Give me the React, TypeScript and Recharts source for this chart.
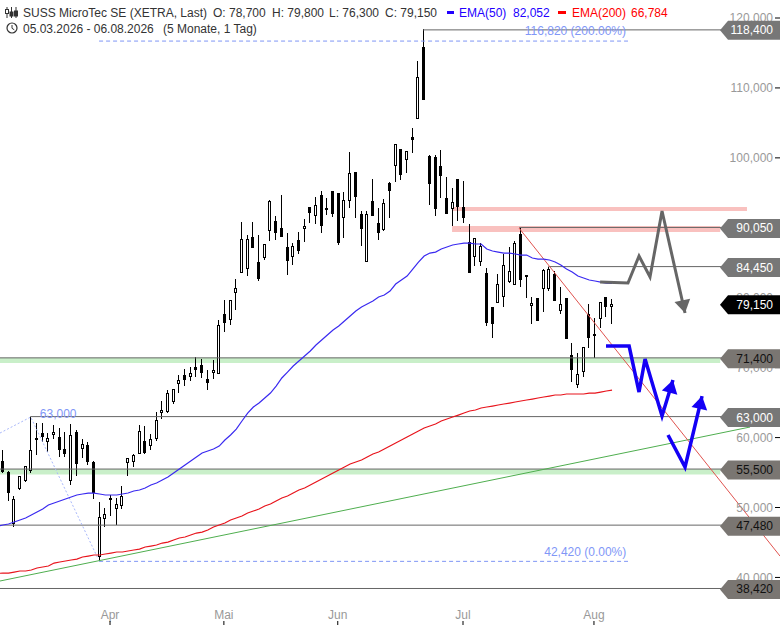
// SUSS MicroTec daily candles with EMAs, support/resistance levels and scenario arrows.
import {
  Bar,
  ComposedChart,
  Line,
  ReferenceArea,
  ReferenceDot,
  ReferenceLine,
  XAxis,
  YAxis,
} from 'recharts';

const FONT = '"Liberation Sans", Arial, sans-serif';
const BLANK_SESSIONS = 29; // empty room right of the last candle
const PRICE_DOMAIN = [36.774, 122.574];
const SESSION_DOMAIN = [-0.5, 136.5];

const OPENS = [
  56.65, 55.07, 47.64, 52.64, 53.79, 55.22, 59.94, 60.65, 59.37, 60.37, 60.08, 58.36, 53.79, 60.79, 58.36, 58.94, 56.5, 42.92,
  48.35, 51.36, 49.78, 50.21, 56.36, 56.5, 57.65, 59.51, 58.79, 59.79, 63.51, 63.65, 65.09, 67.66, 68.95, 68.66, 70.09, 70.37,
  68.37, 69.23, 69.09, 77.67, 76.81, 80.67, 83.53, 84.1, 88.68, 85.1, 85.68, 89.54, 90.97, 89.97, 87.25, 85.82, 88.25, 89.82,
  92.97, 91.68, 94.69, 92.83, 95.26, 94.97, 91.4, 93.83, 97.97, 91.97, 85.1, 93.83, 90.68, 89.68, 96.4, 98.83, 101.26, 99.69,
  102.98, 105.56, 115.85, 100.26, 100.12, 98.83, 94.26, 92.68, 96.97, 92.97, 87.96, 85.82, 85.1, 83.53, 78.67, 79.24, 80.1, 82.24,
  81.81, 89.11, 83.25, 78.81, 79.96, 81.24, 81.24, 83.39, 78.1, 79.96, 71.8, 67.52, 69.37, 77.67, 74.81, 76.95, 80.1, 78.7,
];
const HIGHS = [
  58.22, 55.2, 51.64, 54.5, 55.93, 63.0, 62.08, 62.08, 60.65, 61.8, 61.37, 60.79, 61.94, 61.08, 59.79, 59.37, 56.6, 50.79,
  49.93, 51.79, 51.36, 53.07, 57.08, 57.65, 61.8, 61.65, 60.51, 63.65, 65.23, 66.8, 66.94, 68.95, 69.8, 70.09, 71.52, 71.23,
  69.66, 71.09, 76.81, 79.67, 79.67, 82.67, 90.82, 88.97, 90.82, 88.97, 87.68, 93.97, 91.68, 94.69, 89.25, 87.82, 89.39, 91.25,
  92.97, 94.4, 95.26, 94.26, 95.26, 94.97, 95.11, 100.83, 97.97, 92.4, 92.4, 96.97, 92.83, 94.11, 96.54, 101.98, 101.26, 100.98,
  104.27, 113.85, 118.4, 100.4, 100.4, 101.12, 97.26, 95.69, 96.97, 96.69, 90.54, 88.54, 87.82, 84.25, 78.67, 83.39, 86.25, 87.25,
  88.11, 89.97, 83.25, 80.1, 79.96, 84.1, 84.39, 83.82, 81.53, 79.96, 73.52, 72.09, 72.95, 79.1, 77.1, 79.39, 80.1, 79.8,
];
const LOWS = [
  54.93, 50.93, 47.21, 52.5, 53.65, 54.93, 57.51, 59.37, 57.93, 59.79, 57.22, 57.22, 53.22, 54.5, 57.08, 56.08, 51.21, 42.42,
  47.21, 48.78, 47.5, 49.78, 54.5, 55.79, 57.65, 57.65, 58.22, 59.51, 62.65, 63.51, 64.8, 66.37, 67.37, 68.09, 68.66, 68.52,
  66.8, 68.37, 69.09, 75.1, 76.1, 78.24, 83.53, 83.1, 87.11, 82.39, 85.39, 88.11, 88.25, 88.68, 83.25, 84.67, 86.25, 87.96,
  90.68, 90.54, 89.25, 91.83, 91.54, 87.54, 88.54, 92.83, 91.4, 87.39, 85.1, 91.68, 88.25, 89.54, 91.4, 96.54, 96.83, 97.83,
  100.69, 105.56, 108.27, 93.26, 91.68, 94.26, 91.97, 90.25, 90.97, 90.68, 83.53, 84.53, 84.53, 75.95, 74.24, 79.24, 78.67, 82.1,
  81.81, 81.53, 79.96, 76.24, 76.67, 77.95, 80.96, 79.53, 77.67, 74.1, 67.94, 67.09, 68.66, 72.81, 71.38, 75.67, 77.24, 76.3,
];
const CLOSES = [
  55.07, 52.07, 51.21, 54.5, 55.93, 58.22, 59.72, 60.08, 59.94, 60.79, 58.22, 57.65, 60.37, 56.22, 59.08, 56.5, 52.07, 48.64,
  49.07, 51.21, 50.5, 51.64, 57.08, 57.51, 60.94, 57.79, 59.79, 62.51, 63.94, 66.37, 66.94, 68.23, 68.23, 69.23, 69.66, 69.23,
  67.8, 69.66, 76.1, 76.38, 79.67, 81.39, 88.39, 88.39, 87.11, 82.67, 87.68, 93.83, 89.25, 88.68, 85.25, 87.39, 86.68, 90.25,
  92.11, 93.26, 90.25, 92.54, 91.97, 87.82, 93.97, 97.83, 94.4, 89.82, 91.97, 91.68, 89.25, 93.54, 95.26, 101.98, 97.55, 100.98,
  102.55, 111.56, 108.27, 96.26, 92.68, 97.4, 91.97, 93.69, 92.97, 91.4, 83.53, 88.54, 87.39, 76.38, 76.24, 81.96, 84.67, 83.82,
  87.82, 82.53, 82.96, 79.24, 76.67, 83.96, 84.1, 79.53, 79.1, 74.1, 69.66, 69.09, 72.95, 74.24, 74.67, 79.39, 78.67, 79.15,
];
const EMA50 = [
  47.5, 47.64, 47.92, 48.21, 48.5, 48.93, 49.36, 49.78, 50.36, 50.64, 50.93, 51.21, 51.5, 51.79, 51.93, 52.07, 52.07, 51.93,
  51.79, 51.79, 51.79, 51.93, 52.07, 52.36, 52.5, 52.79, 53.22, 53.5, 53.93, 54.36, 54.93, 55.5, 56.08, 56.65, 57.22, 57.79,
  58.08, 58.36, 58.79, 59.65, 60.37, 61.22, 62.37, 63.51, 64.37, 64.94, 65.66, 66.37, 67.37, 68.52, 69.37, 70.23, 70.95, 71.66,
  72.38, 73.24, 73.95, 74.67, 75.38, 75.95, 76.67, 77.38, 78.1, 78.67, 79.1, 79.53, 80.1, 80.39, 80.96, 81.96, 82.53, 83.1,
  84.1, 85.1, 85.96, 86.39, 86.53, 86.96, 87.25, 87.54, 87.68, 87.82, 87.82, 87.68, 87.68, 86.96, 86.68, 86.53, 86.39, 86.39,
  86.25, 86.1, 86.1, 85.68, 85.53, 85.53, 85.39, 85.1, 84.67, 84.1, 83.67, 83.1, 82.82, 82.53, 82.39, 82.24, 82.1, 82.05,
];
const EMA200 = [
  40.63, 40.63, 40.77, 40.92, 40.92, 41.06, 41.35, 41.49, 41.63, 42.06, 42.21, 42.35, 42.49, 42.63, 42.92, 43.06, 43.21, 43.21,
  43.35, 43.49, 43.64, 43.64, 43.78, 43.92, 44.06, 44.35, 44.49, 44.64, 44.92, 45.06, 45.35, 45.64, 45.78, 46.07, 46.35, 46.49,
  46.78, 47.21, 47.5, 47.78, 48.21, 48.5, 48.78, 49.21, 49.5, 49.78, 50.21, 50.5, 50.93, 51.36, 51.64, 52.07, 52.5, 52.79,
  53.22, 53.65, 54.07, 54.5, 54.93, 55.36, 55.79, 56.22, 56.5, 56.79, 57.22, 57.65, 57.93, 58.36, 58.79, 59.22, 59.65, 60.08,
  60.51, 60.94, 61.37, 61.65, 61.94, 62.37, 62.65, 62.94, 63.22, 63.51, 63.8, 63.94, 64.23, 64.37, 64.51, 64.66, 64.8, 64.94,
  65.09, 65.23, 65.37, 65.51, 65.66, 65.8, 65.94, 66.09, 66.09, 66.23, 66.23, 66.23, 66.23, 66.37, 66.37, 66.51, 66.66, 66.78,
];
// where each EMA enters at the left edge of the picture
const EMA50_EDGE = 47.4;
const EMA200_EDGE = 40.6;

const PRICE_TICKS = [40, 50, 60, 70, 80, 90, 100, 110, 120];
const MONTH_SESSIONS = [19, 39, 59, 81, 104];
const MONTH_LABELS = ['Apr', 'Mai', 'Jun', 'Jul', 'Aug'];

// [first session, price]
const LEVELS: [number, number][] = [
  [73.8, 118.3],
  [90.7, 90.05],
  [95.8, 84.45],
  [-0.5, 71.4],
  [4.8, 63.0],
  [-0.5, 55.5],
  [-0.5, 47.48],
  [-0.5, 38.42],
];
// [price, tag style]
const TAGS: [number, 'light' | 'dark' | 'last'][] = [
  [118.4, 'light'],
  [90.05, 'light'],
  [84.45, 'light'],
  [79.15, 'last'],
  [71.4, 'dark'],
  [63.0, 'light'],
  [55.5, 'dark'],
  [47.48, 'dark'],
  [38.42, 'dark'],
];
const GREEN_BANDS: [number, number][] = [
  [71.4, 70.66],
  [55.5, 54.72],
];
const PINK_BANDS: [number, number, number, number][] = [
  [78.9, 130.7, 92.97, 92.4],
  [78.9, 126, 90.25, 89.39],
];

const GREEN_TREND = [
  { i: -0.5, v: 39.49 },
  { i: 131.24, v: 61.51 },
];
const RED_TREND = [
  { i: 90.66, v: 89.97 },
  { i: 136.5, v: 43.06 },
];
const FIB_PATH = [
  { i: -0.5, v: 60.65 },
  { i: 4.9, v: 62.94 },
  { i: 16.6, v: 42.9 },
];
const GREY_PATH = [
  { i: 104.9, v: 82.24 },
  { i: 109.8, v: 82.1 },
  { i: 111.74, v: 85.96 },
  { i: 113.67, v: 82.96 },
  { i: 115.78, v: 92.4 },
  { i: 119.82, v: 77.81 },
];
const BLUE_PATH_A = [
  { i: 105.94, v: 73.09 },
  { i: 110.0, v: 73.09 },
  { i: 111.74, v: 66.51 },
  { i: 112.8, v: 71.23 },
  { i: 115.78, v: 63.08 },
  { i: 117.7, v: 68.23 },
];
const BLUE_PATH_B = [
  { i: 116.83, v: 60.37 },
  { i: 119.82, v: 55.79 },
  { i: 122.81, v: 65.94 },
];

const candleRows = Array.from({ length: OPENS.length + BLANK_SESSIONS }, (_, i) =>
  i < OPENS.length
    ? { i, o: OPENS[i], h: HIGHS[i], l: LOWS[i], c: CLOSES[i], range: [LOWS[i], HIGHS[i]] }
    : { i },
);
const ema50Rows = [{ i: -0.5, v: EMA50_EDGE }, ...EMA50.map((v, i) => ({ i, v }))];
const ema200Rows = [{ i: -0.5, v: EMA200_EDGE }, ...EMA200.map((v, i) => ({ i, v }))];

const fmt = (v: number) => v.toFixed(3).replace('.', ',');

function Candle(props: any) {
  const { x, y, width, height, payload } = props;
  if (payload.o == null) return null;
  const { o, h, l, c } = payload;
  const px = Math.floor(x + width / 2 - 0.7);
  const span = h - l || 1;
  const yOf = (v: number) => y + ((h - v) / span) * height;
  const top = Math.round(yOf(Math.max(o, c)));
  const bottom = Math.round(yOf(Math.min(o, c)));
  const up = c > o;
  return (
    <g shapeRendering="crispEdges">
      <rect x={px} y={y} width={1} height={height} fill="#000" />
      <rect x={px - 1} y={top} width={3} height={Math.max(bottom - top, 2)} fill="#000" />
      {up && bottom - top > 2 && <rect x={px} y={top + 1} width={1} height={bottom - top - 2} fill="#fff" />}
    </g>
  );
}

function PriceTag({ cy, price, kind }: any) {
  const fill = kind === 'last' ? '#000' : kind === 'dark' ? '#7a7672' : '#777';
  const color = kind === 'dark' ? '#111' : '#fff';
  const mid = cy + 1;
  return (
    <g>
      <polygon
        points={`720,${mid} 728,${mid - 9.5} 780,${mid - 9.5} 780,${mid + 9.5} 728,${mid + 9.5}`}
        fill={fill}
      />
      <text x={773} y={mid + 4} textAnchor="end" fontSize={12} fontFamily={FONT} fill={color}>
        {fmt(price)}
      </text>
    </g>
  );
}

// tip sits on the end of the path, angle is the travel direction in degrees
function ArrowHead({ cx, cy, color, angle }: any) {
  return <polygon points="0,0 -13,-8 -13,8" fill={color} transform={`translate(${cx},${cy}) rotate(${angle})`} />;
}

function Note({ cx, cy, text, anchor }: any) {
  return (
    <text x={cx} y={cy} textAnchor={anchor} fontSize={12} fontFamily={FONT} fill="#8197f7">
      {text}
    </text>
  );
}

function MonthTick({ x, payload }: any) {
  const label = MONTH_LABELS[MONTH_SESSIONS.indexOf(payload.value)];
  return (
    <g>
      <text x={x - 1} y={619} textAnchor="middle" fontSize={12} fontFamily={FONT} fill="#999">
        {label}
      </text>
      <line x1={x - 1} x2={x - 1} y1={621} y2={625} stroke="#000" />
    </g>
  );
}

const headStyle = { position: 'absolute', whiteSpace: 'nowrap', font: `12px ${FONT}`, color: '#333' } as const;

function Header() {
  const items: [number, number, string, string?][] = [
    [23, 6, 'SUSS MicroTec SE (XETRA, Last)'],
    [213, 6, 'O: 78,700'],
    [272, 6, 'H: 79,800'],
    [329, 6, 'L: 76,300'],
    [385, 6, 'C: 79,150'],
    [459, 6, 'EMA(50)', '#2200ff'],
    [513, 6, '82,052', '#2200ff'],
    [572, 6, 'EMA(200)', '#ff0000'],
    [631, 6, '66,784', '#ff0000'],
    [23, 22, '05.03.2026 - 06.08.2026'],
    [163, 22, '(5 Monate, 1 Tag)'],
  ];
  return (
    <>
      {items.map(([left, top, text, color]) => (
        <span key={text} style={{ ...headStyle, left, top, color: color ?? '#333' }}>
          {text}
        </span>
      ))}
      <span style={{ position: 'absolute', left: 447, top: 11, width: 7, height: 3, background: '#2200ff' }} />
      <span style={{ position: 'absolute', left: 558, top: 11, width: 8, height: 3, background: '#ff0000' }} />
      <svg style={{ position: 'absolute', left: 5, top: 7 }} width={13} height={11}>
        <path d="M2 0V11M6.5 0V11M11 0V11" stroke="#333" />
        <rect x={0.5} y={2.5} width={3} height={4} fill="#fff" stroke="#333" />
        <rect x={5} y={5} width={3} height={4} fill="#333" stroke="#333" />
        <rect x={9.5} y={4} width={3} height={5} fill="#333" stroke="#333" />
      </svg>
      <svg style={{ position: 'absolute', left: 6, top: 22 }} width={12} height={12}>
        <circle cx={6} cy={6} r={5} fill="none" stroke="#333" strokeWidth={1.2} />
        <path d="M6 3V6.3L8.3 7.8" fill="none" stroke="#333" />
      </svg>
    </>
  );
}

function pathLine(rows: { i: number; v: number }[], color: string, width: number, dash?: string) {
  return (
    <Line
      data={rows}
      dataKey="v"
      xAxisId="n"
      stroke={color}
      strokeWidth={width}
      strokeDasharray={dash}
      strokeLinejoin="miter"
      dot={false}
      activeDot={false}
      legendType="none"
      isAnimationActive={false}
    />
  );
}

// Second transparent chart on top: the price tags have to cover the axis labels.
function TagLayer() {
  return (
    <div style={{ position: 'absolute', left: 0, top: 0 }}>
      <ComposedChart width={780} height={625} data={candleRows} margin={{ top: 0, right: 0, bottom: 25, left: 0 }}>
        <XAxis xAxisId="n" dataKey="i" type="number" domain={SESSION_DOMAIN} allowDataOverflow hide />
        <YAxis domain={PRICE_DOMAIN} allowDataOverflow hide />
        {TAGS.map(([price, kind]) => (
          <ReferenceDot key={price} xAxisId="n" x={136.5} y={price} ifOverflow="visible" shape={<PriceTag price={price} kind={kind} />} />
        ))}
      </ComposedChart>
    </div>
  );
}

export default function App() {
  return (
    <div style={{ position: 'absolute', left: 0, top: 0, width: 780, height: 625, overflow: 'hidden', background: '#fff' }}>
      <ComposedChart width={780} height={625} data={candleRows} margin={{ top: 0, right: 0, bottom: 0, left: 0 }}>
        <XAxis xAxisId="c" dataKey="i" type="category" hide />
        <XAxis
          xAxisId="n"
          dataKey="i"
          type="number"
          domain={SESSION_DOMAIN}
          allowDataOverflow
          ticks={MONTH_SESSIONS}
          interval={0}
          height={25}
          axisLine={false}
          tickLine={false}
          tick={<MonthTick />}
        />
        <YAxis
          orientation="right"
          mirror
          domain={PRICE_DOMAIN}
          allowDataOverflow
          ticks={PRICE_TICKS}
          interval={0}
          axisLine={false}
          tickSize={5}
          tickMargin={2}
          tickLine={{ stroke: '#000' }}
          tick={{ fill: '#999', fontSize: 12, fontFamily: FONT }}
          tickFormatter={fmt}
        />

        {GREEN_BANDS.map(([y1, y2]) => (
          <ReferenceArea key={y1} xAxisId="n" x1={-0.5} x2={126} y1={y1} y2={y2} fill="#c9efc9" fillOpacity={1} stroke="none" />
        ))}
        {PINK_BANDS.map(([x1, x2, y1, y2]) => (
          <ReferenceArea key={y1} xAxisId="n" x1={x1} x2={x2} y1={y1} y2={y2} fill="#f9c1bf" fillOpacity={1} stroke="none" />
        ))}
        {LEVELS.map(([start, price]) => (
          <ReferenceLine
            key={price}
            xAxisId="n"
            segment={[
              { x: start, y: price },
              { x: 136.5, y: price },
            ]}
            stroke="#666"
            strokeWidth={1}
          />
        ))}
        <ReferenceLine
          xAxisId="n"
          segment={[
            { x: 16.9, y: 116.7 },
            { x: 109.8, y: 116.7 },
          ]}
          stroke="#7f95f5"
          strokeDasharray="4 3"
        />
        <ReferenceLine
          xAxisId="n"
          segment={[
            { x: 16.9, y: 42.3 },
            { x: 109.8, y: 42.3 },
          ]}
          stroke="#7f95f5"
          strokeDasharray="4 3"
        />

        {pathLine(FIB_PATH, '#a9b8fb', 1, '2 2')}
        {pathLine(GREEN_TREND, '#4fae4f', 1)}
        {pathLine(RED_TREND, '#e0534f', 1)}

        <Bar xAxisId="c" dataKey="range" shape={<Candle />} isAnimationActive={false} legendType="none" />

        {pathLine(ema200Rows, '#e8141c', 1.2)}
        {pathLine(ema50Rows, '#3a2af0', 1.2)}
        {pathLine(GREY_PATH, '#666', 3)}
        {pathLine(BLUE_PATH_A, '#1400f5', 3.5)}
        {pathLine(BLUE_PATH_B, '#1400f5', 3.5)}

        <ReferenceDot xAxisId="n" x={119.82} y={77.81} ifOverflow="visible" shape={<ArrowHead color="#666" angle={78} />} />
        <ReferenceDot xAxisId="n" x={117.7} y={68.23} ifOverflow="visible" shape={<ArrowHead color="#1400f5" angle={-75} />} />
        <ReferenceDot xAxisId="n" x={122.81} y={65.94} ifOverflow="visible" shape={<ArrowHead color="#1400f5" angle={-78} />} />

        <ReferenceDot xAxisId="n" x={6.5} y={62.85} ifOverflow="visible" shape={<Note text="63,000" anchor="start" />} />
        <ReferenceDot xAxisId="n" x={109.45} y={117.5} ifOverflow="visible" shape={<Note text="116,820 (200.00%)" anchor="end" />} />
        <ReferenceDot xAxisId="n" x={109.5} y={43.13} ifOverflow="visible" shape={<Note text="42,420 (0.00%)" anchor="end" />} />
      </ComposedChart>
      <TagLayer />
      <Header />
    </div>
  );
}
